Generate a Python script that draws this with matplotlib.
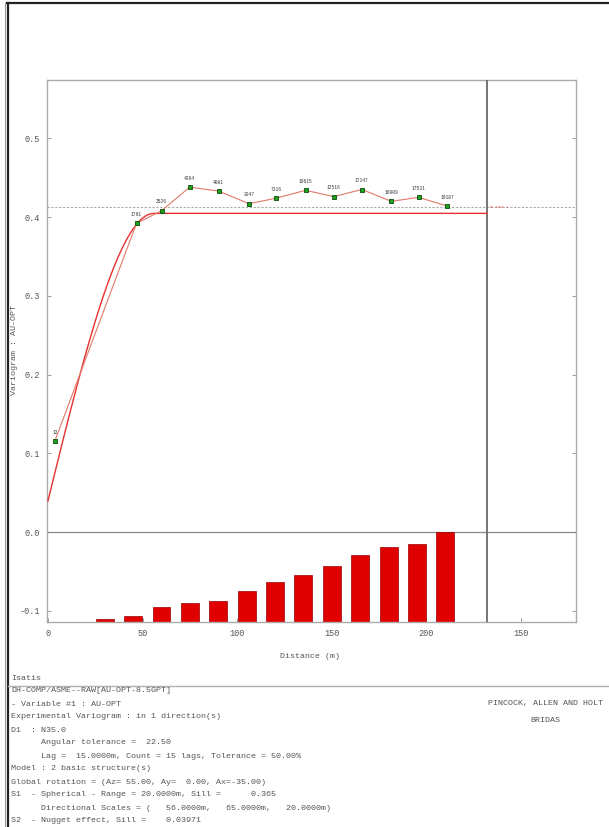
import numpy as np
import matplotlib.pyplot as plt
from matplotlib.lines import Line2D

# experimental variogram, direction N35
lag_dist = [3.7, 46.8, 60.0, 74.9, 90.2, 106.2, 120.7, 136.1, 150.9, 165.9, 181.4, 195.9, 210.9]
gamma = [0.116, 0.392, 0.408, 0.438, 0.433, 0.417, 0.424, 0.434, 0.426, 0.435, 0.420, 0.425, 0.414]
pair_lbl = ["12", "1791", "2526", "4364", "4081", "2047", "7316",
            "19615", "12516", "17147", "16009", "17531", "19187"]

# histogram of pairs shown under the variogram
hist_dist = [30, 45, 60, 75, 90, 105, 120, 135, 150, 165, 180, 195, 210]
hist_pairs = [72, 152, 392, 515, 568, 827, 1075, 1253, 1493, 1787, 1992, 2080, 2400]

# model parameters
nugget = 0.03971
sill = 0.365
srange = 56.0
exp_var = 0.413
dmax = 232.0

yticks = [-0.1, 0.0, 0.1, 0.2, 0.3, 0.4, 0.5]
ytick_lbl = ["-0.1", "0.0", "0.1", "0.2", "0.3", "0.4", "0.5"]
xticks = [0, 50, 100, 150, 200, 250]
xtick_lbl = ["0", "50", "100", "150", "200", "150"]

header = ["DH-COMP/ASME--RAW[AU-OPT-8.5GPT]",
          "- Variable #1 : AU-OPT",
          "Experimental Variogram : in 1 direction(s)",
          "D1  : N35.0",
          "      Angular tolerance =  22.50",
          "      Lag =  15.0000m, Count = 15 lags, Tolerance = 50.00%",
          "Model : 2 basic structure(s)",
          "Global rotation = (Az= 55.00, Ay=  0.00, Ax=-35.00)",
          "S1  - Spherical - Range = 20.0000m, Sill =      0.365",
          "      Directional Scales = (   56.0000m,   65.0000m,   20.0000m)",
          "S2  - Nugget effect, Sill =    0.03971"]

W, H = 609, 827
fig = plt.figure(figsize=(W / 100, H / 100), dpi=100)
mono = "Liberation Mono"
grey = "#555555"

ymin, ymax = -0.114, 0.574
ax = fig.add_axes([47 / W, 1 - 622 / H, (576 - 47) / W, (622 - 80) / H])
ax.set_xlim(-0.5, 279)
ax.set_ylim(ymin, ymax)

# pairs histogram, scaled so the largest bar reaches 0
top = max(hist_pairs)
heights = [p / top * (0 - ymin) for p in hist_pairs]
ax.bar(hist_dist, heights, bottom=ymin, width=9.5, color="#e00000",
       edgecolor="#990000", linewidth=0.5, zorder=2)

# reference lines
ax.axhline(0.0, color="#8a8a8a", lw=0.9, zorder=1)
ax.axhline(exp_var, color="#aaaaaa", lw=0.8, ls=(0, (2, 1.5)), zorder=1)
ax.axvline(dmax, color="#6a6a6a", lw=1.3, zorder=3)
ax.text(dmax + 1.5, exp_var, "0.413 +", color="#e05050", fontsize=3.2,
        family=mono, va="center")

# model
h = np.linspace(0, dmax, 500)
r = np.minimum(h / srange, 1.0)
model = nugget + sill * (1.5 * r - 0.5 * r ** 3)
ax.plot(h, model, color="#e83030", lw=1.0, zorder=3)

# experimental variogram
ax.plot(lag_dist, gamma, color="#e07a6a", lw=0.8, zorder=4)
ax.plot(lag_dist, gamma, ls="none", marker="s", ms=3.4, mfc="#1fa01f",
        mec="#0a4a0a", mew=0.6, zorder=5)
for x, y, t in zip(lag_dist, gamma, pair_lbl):
    ax.text(x, y + 0.008, t, fontsize=3.3, family=mono, color="#333333",
            ha="center", va="bottom", zorder=6)

ax.set_xticks(xticks)
ax.set_xticklabels(xtick_lbl)
ax.set_yticks(yticks)
ax.set_yticklabels(ytick_lbl)
ax.tick_params(direction="in", length=3, width=0.6, colors="#888888",
               labelcolor=grey, labelsize=6.2, right=True, pad=5)
for lbl in ax.get_xticklabels() + ax.get_yticklabels():
    lbl.set_family(mono)
for s in ax.spines.values():
    s.set_color("#aaaaaa")
    s.set_linewidth(1.0)

fig.text(310 / W, 1 - 657 / H, "Distance (m)", family=mono, fontsize=6,
         color=grey, ha="center", va="center")
fig.text(15 / W, 1 - 350 / H, "Variogram : AU-OPT", family=mono, fontsize=6,
         color=grey, ha="center", va="center", rotation=90)

# page frame
fig.add_artist(Line2D([7 / W, 1], [1 - 3 / H] * 2, transform=fig.transFigure,
                      color="#222222", lw=1.6))
fig.add_artist(Line2D([5 / W] * 2, [0, 1 - 3 / H], transform=fig.transFigure,
                      color="#999999", lw=0.8))
fig.add_artist(Line2D([8 / W] * 2, [0, 1 - 3 / H], transform=fig.transFigure,
                      color="#222222", lw=1.6))
fig.add_artist(Line2D([8 / W, 1], [1 - 686 / H] * 2, transform=fig.transFigure,
                      color="#b0b0b0", lw=1.0))

# text block under the chart
fig.text(11 / W, 1 - 679 / H, "Isatis", family=mono, fontsize=6,
         color=grey, va="center")
for i, line in enumerate(header):
    fig.text(11 / W, 1 - (691 + 13 * i) / H, line, family=mono, fontsize=6,
             color=grey, va="center")
fig.text(545 / W, 1 - 703 / H, "PINCOCK, ALLEN AND HOLT", family=mono,
         fontsize=6, color=grey, ha="center", va="center")
fig.text(545 / W, 1 - 720 / H, "BRIDAS", family=mono, fontsize=6,
         color=grey, ha="center", va="center")

fig.savefig("out.png", dpi=100)
